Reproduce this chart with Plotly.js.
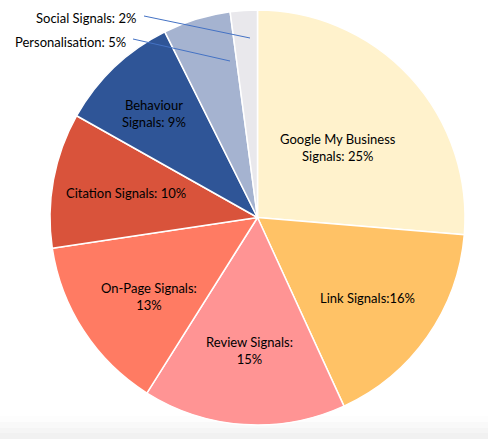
<!DOCTYPE html>
<html><head><meta charset="utf-8">
<script src="https://cdn.plot.ly/plotly-3.0.1.min.js"></script>
<style>html,body{margin:0;padding:0;background:#fff}#c{width:488px;height:439px}</style>
</head><body><div id="c"></div>
<script>
const categories = ["Google My Business Signals","Link Signals","Review Signals","On-Page Signals","Citation Signals","Behaviour Signals","Personalisation","Social Signals"];
const values = [25,16,15,13,10,9,5,2];
const sliceLabels = ["Google My Business<br>Signals: 25%","Link Signals:16%","Review Signals:<br>15%","On-Page Signals:<br>13%","Citation Signals: 10%","Behaviour<br>Signals: 9%","Personalisation: 5%","Social Signals: 2%"];
const colors = ["#FFF2CC","#FFC266","#FF9494","#FF7B63","#D9533B","#2F5597","#A5B3D0","#E9E8EC"];

const W=488,H=439;
const FONT="Lato, 'Open Sans', sans-serif";
function px(x){return x/W;} function py(y){return 1-y/H;}

// label placement (pixels) for each slice's label
const labelPos = [[338,147],[367,298],[249,350],[149,296],[126,193],[154,114],[70,42],[85.5,18]];
// leader lines for the two outside labels: [label index, start, end]
const leaders = [[6,[133,39],[230,61]],[7,[144,16],[250,38]]];

const trace = {
  type:"pie", labels:categories, values:values,
  textinfo:"none",
  sort:false, direction:"clockwise", rotation:0,
  marker:{colors:colors, line:{color:"#fff", width:1.5}},
  hoverinfo:"label+percent",
  domain:{x:[50/W,465/W], y:[1-425/H, 1-10/H]},
  showlegend:false
};
const grad = [[416,422,"#fdfdfd"],[422,428,"#f9f9f9"],[428,433,"#f5f5f5"],[433,439,"#f1f1f1"]];
const shapes = grad.map(g=>({type:"rect",xref:"paper",yref:"paper",x0:0,x1:1,y0:py(g[1]),y1:py(g[0]),fillcolor:g[2],line:{width:0},layer:"below"}));
leaders.forEach(l=>shapes.push({type:"line",xref:"paper",yref:"paper",x0:px(l[1][0]),y0:py(l[1][1]),x1:px(l[2][0]),y1:py(l[2][1]),line:{color:"#4472C4",width:1},layer:"above"}));
const annotations = sliceLabels.map((t,i)=>({x:px(labelPos[i][0]),y:py(labelPos[i][1]),xref:"paper",yref:"paper",text:t,showarrow:false,xanchor:"center",yanchor:"middle",font:{size:13,family:FONT,color:"#000"}}));

const layout = {
  width:W,height:H, margin:{l:0,r:0,t:0,b:0}, paper_bgcolor:"#fff",
  font:{family:FONT, size:13, color:"#000"},
  shapes:shapes, annotations:annotations
};
Plotly.newPlot("c",[trace],layout,{displayModeBar:false,staticPlot:true});
</script></body></html>
